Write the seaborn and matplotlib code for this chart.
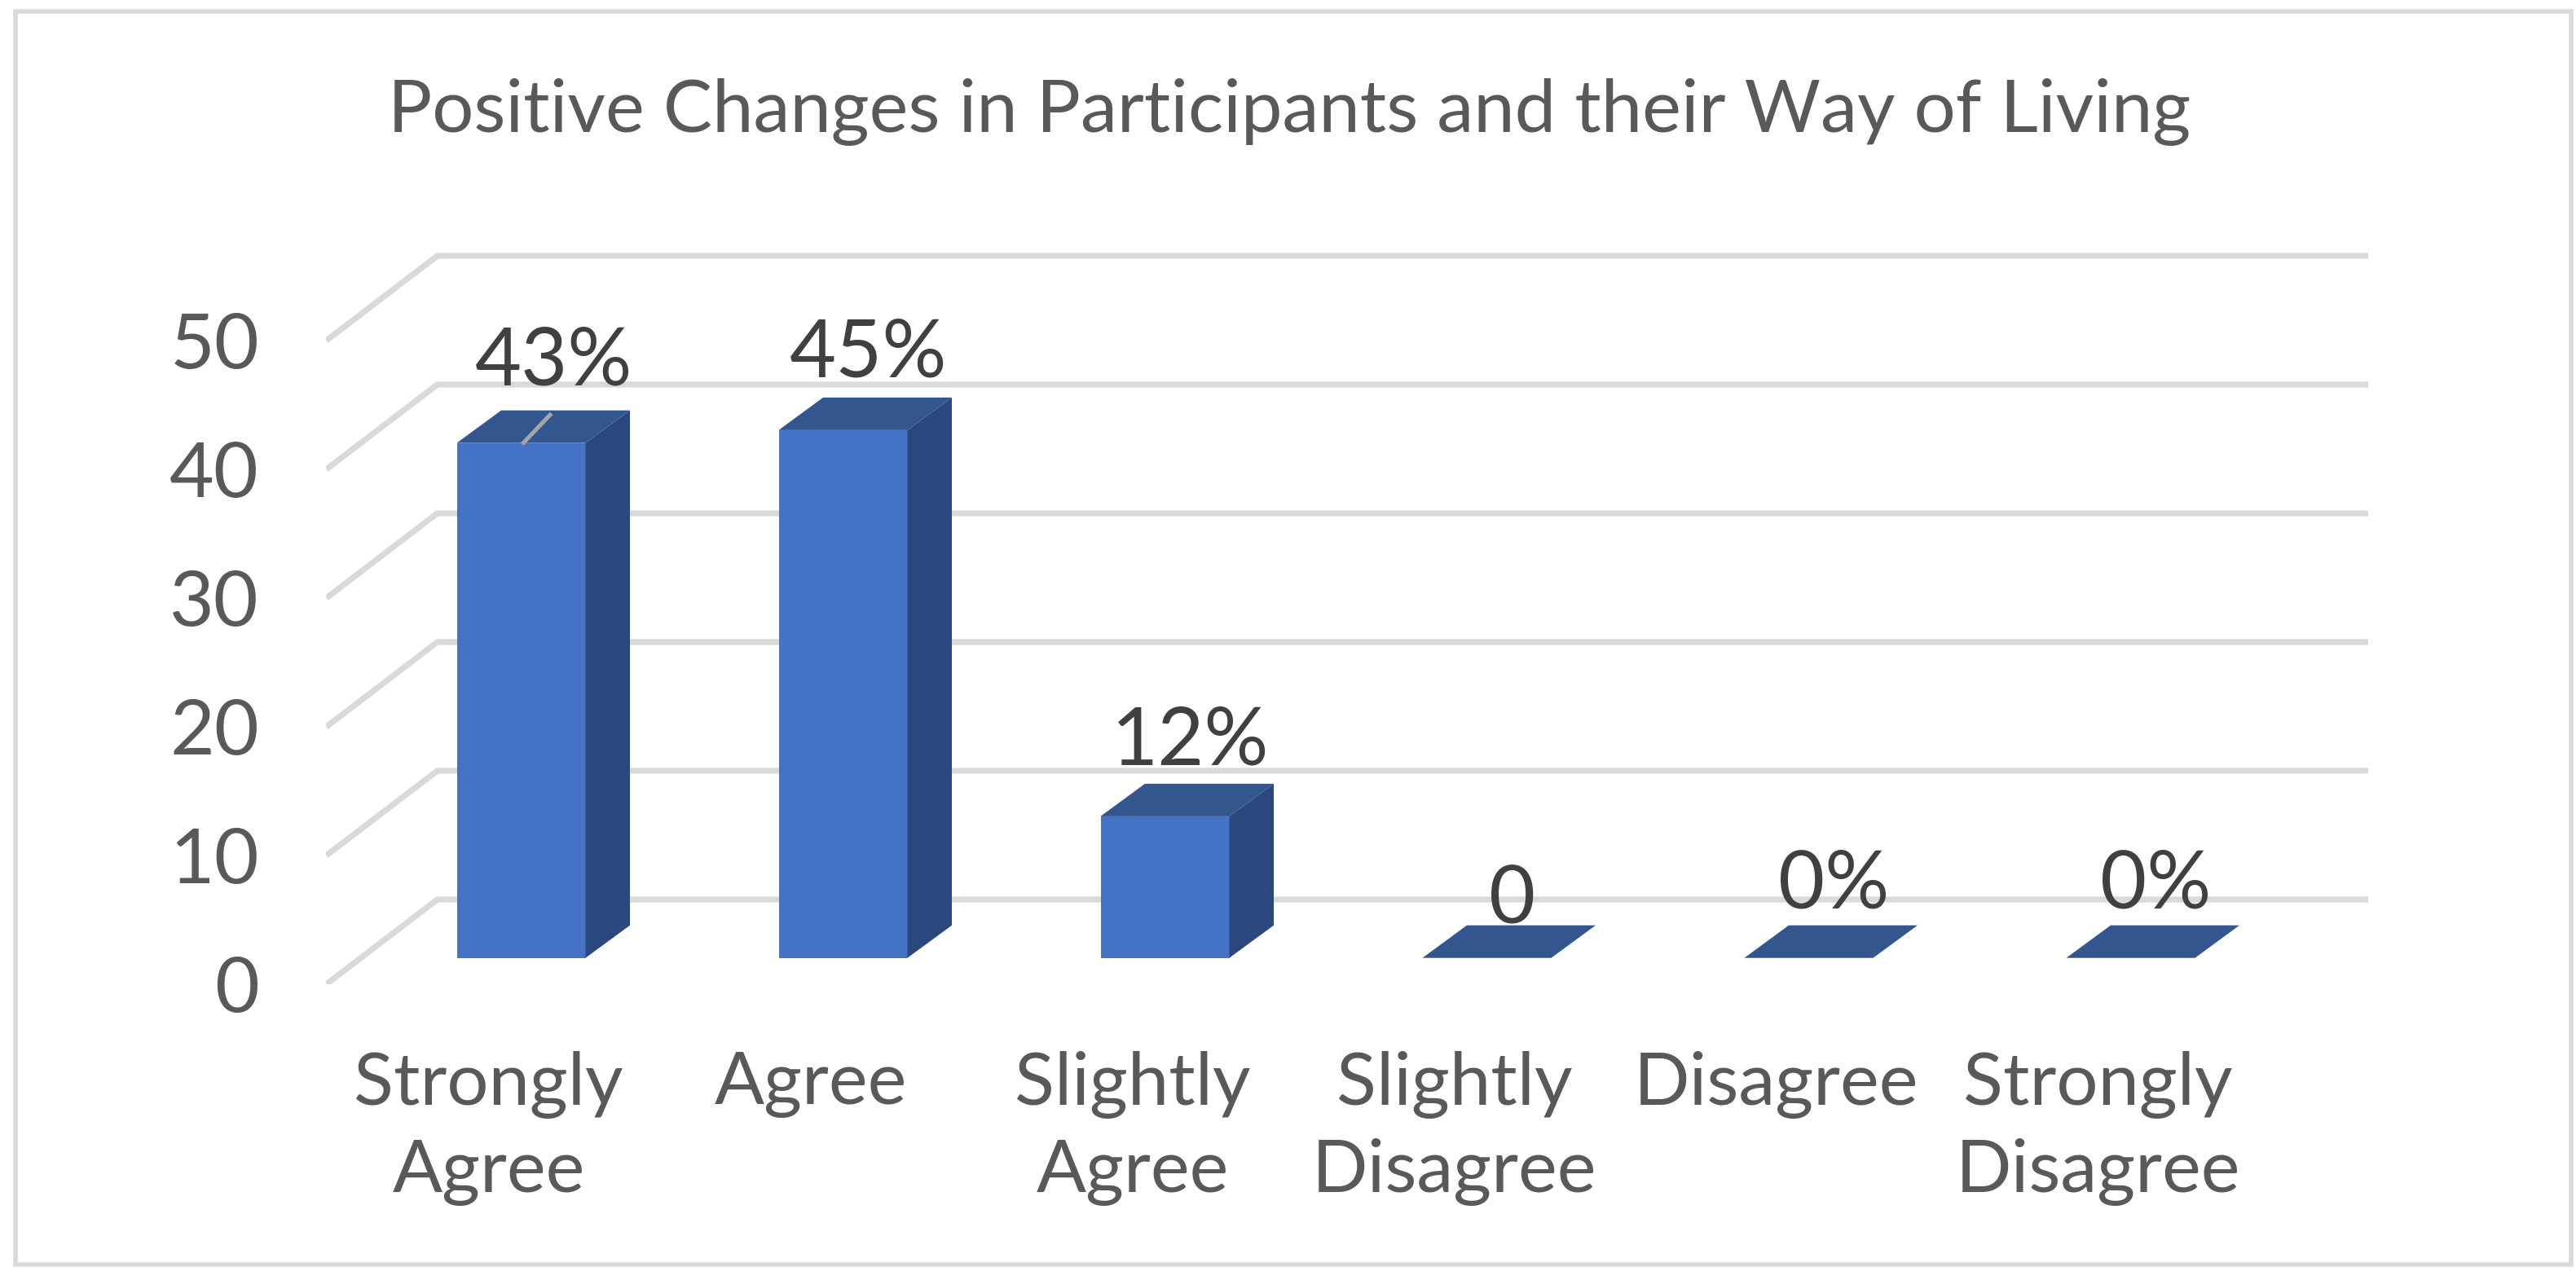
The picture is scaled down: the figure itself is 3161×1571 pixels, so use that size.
import matplotlib
matplotlib.use("Agg")
import matplotlib.pyplot as plt
from matplotlib.patches import Rectangle
from matplotlib.transforms import ScaledTranslation
import seaborn as sns

categories = ["Strongly\nAgree", "Agree\n", "Slightly\nAgree", "Slightly\nDisagree", "Disagree\n", "Strongly\nDisagree"]
bar_heights = [40, 41, 11, 0, 0, 0]
bar_labels = ["43%", "45%", "12%", "0", "0%", "0%"]
label_rise_px = [71, 65, 63, 42, 61, 61]
axis_ticks = [0, 10, 20, 30, 40, 50]
title = "Positive Changes in Participants and their Way of Living"

W, H = 3161, 1571
PX_X, PX_V = 395.0, 15.8      # pixels per category / per value unit
X0_PX, V0_PX = 639.5, 1175.7  # pixel of category 0 centre / of value 0 on the bar front
DX, DV = 54.5 / PX_X, 40 / PX_V
WALL_BACK = (V0_PX - 1104) / PX_V
WALL_FRONT = (V0_PX - 1208) / PX_V
L, R, B, T = 400, 2920, 1208, 300

FONT = "Lato"
sns.set_theme(style="white")
plt.rcParams["font.family"] = [FONT, "DejaVu Sans"]
GRID, TXT, LBL = "#D9D9D9", "#595959", "#404040"
FRONT, TOP, SIDE = "#4472C4", "#34568F", "#2A477E"

fig = plt.figure(figsize=(W / 100, H / 100), dpi=100, facecolor="white")
ax = fig.add_axes([L / W, 1 - B / H, (R - L) / W, (B - T) / H])

sns.barplot(x=categories, y=bar_heights, color=FRONT, saturation=1, width=0.4, ax=ax,
            zorder=3, linewidth=0)
ax.set_xlim((L - X0_PX) / PX_X, (R - X0_PX) / PX_X)
ax.set_ylim((V0_PX - B) / PX_V, (V0_PX - T) / PX_V)

xb = (536.6 - X0_PX) / PX_X
xf = (L + 0.5 - X0_PX) / PX_X
xr = (2906 - X0_PX) / PX_X
for v in axis_ticks:
    ax.plot([xf, xb, xr], [v + WALL_FRONT, v + WALL_BACK, v + WALL_BACK],
            color=GRID, lw=5.2, zorder=1, solid_joinstyle="miter", solid_capstyle="butt")

for i, h in enumerate(bar_heights):
    a, b = i - 0.2, i + 0.2
    ax.fill([a, b, b + DX, a + DX], [h, h, h + DV, h + DV], color=TOP, lw=0, zorder=4)
    if h > 0:
        ax.fill([b, b + DX, b + DX, b], [0, DV, h + DV, h], color=SIDE, lw=0, zorder=4)
    dx_px = 40 if i == 0 else 31
    ax.annotate(bar_labels[i], (i, h), xytext=(dx_px * 0.72, label_rise_px[i] * 0.72),
                textcoords="offset points", ha="center", va="baseline",
                color=LBL, fontsize=71, zorder=6)

# leader line of the first label
ax.plot([0.003, 0.094], [39.9, 42.3], color="#A6A6A6", lw=3.6, zorder=5, solid_capstyle="butt")

ax.set_yticks([v + WALL_FRONT for v in axis_ticks], [str(v) for v in axis_ticks])
ax.tick_params(axis="y", length=0, pad=(L - 318) * 0.72, labelsize=68, labelcolor=TXT)
ax.tick_params(axis="x", length=0, pad=(1290 - B) * 0.72, labelsize=65, labelcolor=TXT)
shift = ScaledTranslation(-40 / 100, 0, fig.dpi_scale_trans)
for t in ax.get_xticklabels():
    t.set_transform(t.get_transform() + shift)
    t.set_linespacing(1.37)
ax.set_xlabel("")
sns.despine(ax=ax, left=True, bottom=True, top=True, right=True)
ax.patch.set_alpha(0)

fig.text(1582 / W, 1 - 162 / H, title, ha="center", va="baseline", fontsize=65, color=TXT)
fig.add_artist(Rectangle((19 / W, 1 - 1552 / H), (3155 - 19) / W, (1552 - 14) / H,
                         transform=fig.transFigure, fill=False, ec=GRID, lw=4))
fig.savefig("out.png", dpi=100)
